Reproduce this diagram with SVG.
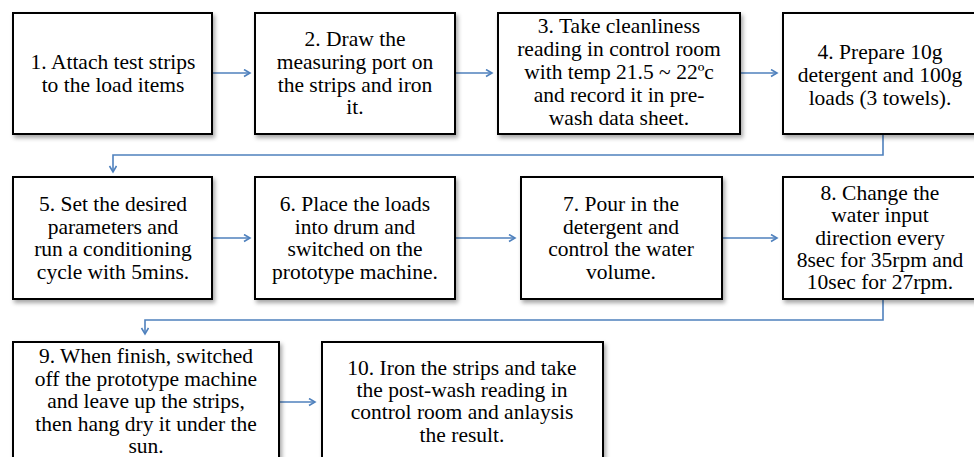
<svg xmlns="http://www.w3.org/2000/svg" width="974" height="457" viewBox="0 0 974 457">
  <defs>
    <filter id="shadow" x="-10%" y="-10%" width="130%" height="130%">
      <feDropShadow dx="2" dy="3" stdDeviation="2" flood-color="#000" flood-opacity="0.35"/>
    </filter>
    <marker id="arrow" markerWidth="10" markerHeight="10" refX="7" refY="4" orient="auto" markerUnits="userSpaceOnUse">
      <path d="M1,0.5 L7,4 L1,7.5" fill="none" stroke="#4f81bd" stroke-width="1.6"/>
    </marker>
    <style>
      .box { fill: #ffffff; stroke: #000000; stroke-width: 2; filter: url(#shadow); }
      .lbl { font-family: 'Liberation Serif', 'DejaVu Serif', serif; font-size: 21.5px; fill: #000000; text-anchor: middle; }
      .conn { fill: none; stroke: #4f81bd; stroke-width: 1.6; marker-end: url(#arrow); }
    </style>
  </defs>
  <rect width="974" height="457" fill="#ffffff"/>

  <!-- connectors -->
  <g id="connectors">
    <path class="conn" d="M212,73 H250"/>
    <path class="conn" d="M455,73 H492"/>
    <path class="conn" d="M740,73 H777"/>
    <path class="conn" d="M883,134 V155 H113 V172"/>
    <path class="conn" d="M212,238 H250"/>
    <path class="conn" d="M455,238 H515"/>
    <path class="conn" d="M722,238 H777"/>
    <path class="conn" d="M883,299 V320 H145 V334"/>
    <path class="conn" d="M279,402 H315"/>
  </g>

  <!-- row 1 -->
  <g id="step1">
    <rect class="box" x="13" y="13" width="199" height="121"/>
    <text class="lbl" x="113" y="69">1. Attach test strips</text>
    <text class="lbl" x="113" y="92">to the load items</text>
  </g>
  <g id="step2">
    <rect class="box" x="255" y="13" width="200" height="121"/>
    <text class="lbl" x="355" y="46">2. Draw the</text>
    <text class="lbl" x="355" y="69">measuring port on</text>
    <text class="lbl" x="355" y="92">the strips and iron</text>
    <text class="lbl" x="355" y="114">it.</text>
  </g>
  <g id="step3">
    <rect class="box" x="498" y="13" width="242" height="121"/>
    <text class="lbl" x="619" y="33">3. Take cleanliness</text>
    <text class="lbl" x="619" y="56">reading in control room</text>
    <text class="lbl" x="619" y="79">with temp 21.5 ~ 22ºc</text>
    <text class="lbl" x="619" y="102">and record it in pre-</text>
    <text class="lbl" x="619" y="125">wash data sheet.</text>
  </g>
  <g id="step4">
    <rect class="box" x="783" y="13" width="195" height="121"/>
    <text class="lbl" x="880" y="59">4. Prepare 10g</text>
    <text class="lbl" x="880" y="82">detergent and 100g</text>
    <text class="lbl" x="880" y="105">loads (3 towels).</text>
  </g>

  <!-- row 2 -->
  <g id="step5">
    <rect class="box" x="13" y="177" width="199" height="122"/>
    <text class="lbl" x="113" y="211">5. Set the desired</text>
    <text class="lbl" x="113" y="234">parameters and</text>
    <text class="lbl" x="113" y="256">run a conditioning</text>
    <text class="lbl" x="113" y="279">cycle with 5mins.</text>
  </g>
  <g id="step6">
    <rect class="box" x="255" y="177" width="200" height="122"/>
    <text class="lbl" x="355" y="211">6. Place the loads</text>
    <text class="lbl" x="355" y="234">into drum and</text>
    <text class="lbl" x="355" y="256">switched on the</text>
    <text class="lbl" x="355" y="279">prototype machine.</text>
  </g>
  <g id="step7">
    <rect class="box" x="521" y="177" width="201" height="122"/>
    <text class="lbl" x="621" y="211">7. Pour in the</text>
    <text class="lbl" x="621" y="234">detergent and</text>
    <text class="lbl" x="621" y="256">control the water</text>
    <text class="lbl" x="621" y="279">volume.</text>
  </g>
  <g id="step8">
    <rect class="box" x="783" y="177" width="195" height="122"/>
    <text class="lbl" x="880" y="200">8. Change the</text>
    <text class="lbl" x="880" y="222">water input</text>
    <text class="lbl" x="880" y="245">direction every</text>
    <text class="lbl" x="880" y="267">8sec for 35rpm and</text>
    <text class="lbl" x="880" y="289">10sec for 27rpm.</text>
  </g>

  <!-- row 3 -->
  <g id="step9">
    <rect class="box" x="13" y="342" width="266" height="130"/>
    <text class="lbl" x="146" y="363">9. When finish, switched</text>
    <text class="lbl" x="146" y="386">off the prototype machine</text>
    <text class="lbl" x="146" y="408">and leave up the strips,</text>
    <text class="lbl" x="146" y="431">then hang dry it under the</text>
    <text class="lbl" x="146" y="453">sun.</text>
  </g>
  <g id="step10">
    <rect class="box" x="322" y="342" width="281" height="130"/>
    <text class="lbl" x="462" y="375">10. Iron the strips and take</text>
    <text class="lbl" x="462" y="397">the post-wash reading in</text>
    <text class="lbl" x="462" y="419">control room and anlaysis</text>
    <text class="lbl" x="462" y="442">the result.</text>
  </g>
</svg>
